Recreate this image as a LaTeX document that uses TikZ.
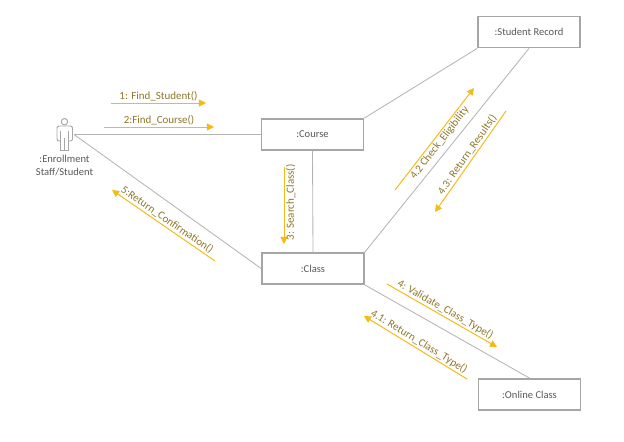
\documentclass[tikz,border=0pt]{standalone}
\usepackage{fontspec}
\setmainfont{Carlito}
\usetikzlibrary{arrows.meta}
\definecolor{linegray}{HTML}{B4B4B4}
\definecolor{boxgray}{HTML}{A6A6A6}
\definecolor{msgyellow}{HTML}{F5BA14}
\definecolor{msgtext}{HTML}{8C7628}
\definecolor{nametext}{HTML}{595959}
\tikzset{
  object/.style={draw=boxgray, line width=1.1pt, fill=white, minimum width=2.55cm, minimum height=0.78cm, inner sep=0pt, text=nametext, font=\fontsize{7.5}{9}\selectfont},
  link/.style={draw=linegray, line width=0.6pt},
  msg/.style={draw=msgyellow, line width=0.7pt, -{Triangle[length=5pt,width=5pt]}},
  msglabel/.style={midway, inner sep=1pt, text=msgtext, font=\fontsize{7.8}{9}\selectfont},
  actorline/.style={draw=boxgray, line width=0.7pt},
}
\begin{document}
\begin{tikzpicture}[x=0.025cm,y=-0.025cm]
  \useasboundingbox (0,0) rectangle (624,441);
  % objects
  \node[object] (record) at (529,32) {:Student Record};
  \node[object] (course) at (312.5,134.5) {:Course};
  \node[object] (class) at (313,268.5) {:Class};
  \node[object] (online) at (529.5,394.5) {:Online Class};
  % actor
  \draw[actorline] (64.5,121.7) circle (3.2);
  \draw[actorline, rounded corners=1.5pt] (60.5,141) -- (57,141) -- (57,126) -- (72.5,126) -- (72.5,141) -- (68.5,141);
  \draw[actorline] (60.5,131) -- (60.5,150.5) -- (68.5,150.5) -- (68.5,131) (64.5,138) -- (64.5,150.5);
  \coordinate (staff) at (74,134.5);
  \node[text=nametext, align=center, font=\fontsize{7.5}{9.2}\selectfont] (staffname) at (64.5,165.5) {:Enrollment\\Staff/Student};
  % links
  \draw[link] (staff) -- (course.west);
  \draw[link] (staff) -- (class.west);
  \draw[link] (course.north east) -- (record.south west);
  \draw[link] (course.south) -- (class.north);
  \draw[link] (class.north east) -- (record.south);
  \draw[link] (class.south east) -- (online.north);
  % messages
  \coordinate (m1a) at (111,103); \coordinate (m1b) at (206,103);
  \coordinate (m2a) at (104,127); \coordinate (m2b) at (214,127);
  \coordinate (m3a) at (284,167); \coordinate (m3b) at (284,244);
  \coordinate (m4a) at (387,284); \coordinate (m4b) at (497,347);
  \coordinate (m41a) at (467,379); \coordinate (m41b) at (364,316);
  \coordinate (m42a) at (395,190); \coordinate (m42b) at (474,88);
  \coordinate (m43a) at (506,111); \coordinate (m43b) at (435,212);
  \coordinate (m5a) at (215,261); \coordinate (m5b) at (112,190);
  \draw[msg] (m1a) -- (m1b) node[msglabel, above] {1: Find\_Student()};
  \draw[msg] (m2a) -- (m2b) node[msglabel, above] {2:Find\_Course()};
  \draw[msg] (m3a) -- (m3b) node[msglabel, pos=0.46, rotate=90, below] {3: Search\_Class()};
  \draw[msg] (m4a) -- (m4b) node[msglabel, sloped, above] {4: Validate\_Class\_Type()};
  \draw[msg] (m41a) -- (m41b) node[msglabel, sloped, above] {4.1: Return\_Class\_Type()};
  \draw[msg] (m42a) -- (m42b) node[msglabel, sloped, below] {4.2 Check\_Eligibility};
  \draw[msg] (m43a) -- (m43b) node[msglabel, pos=0.47, sloped, above] {4.3: Return\_Results()};
  \draw[msg] (m5a) -- (m5b) node[msglabel, sloped, above] {5:Return\_Confirmation()};
\end{tikzpicture}
\end{document}
